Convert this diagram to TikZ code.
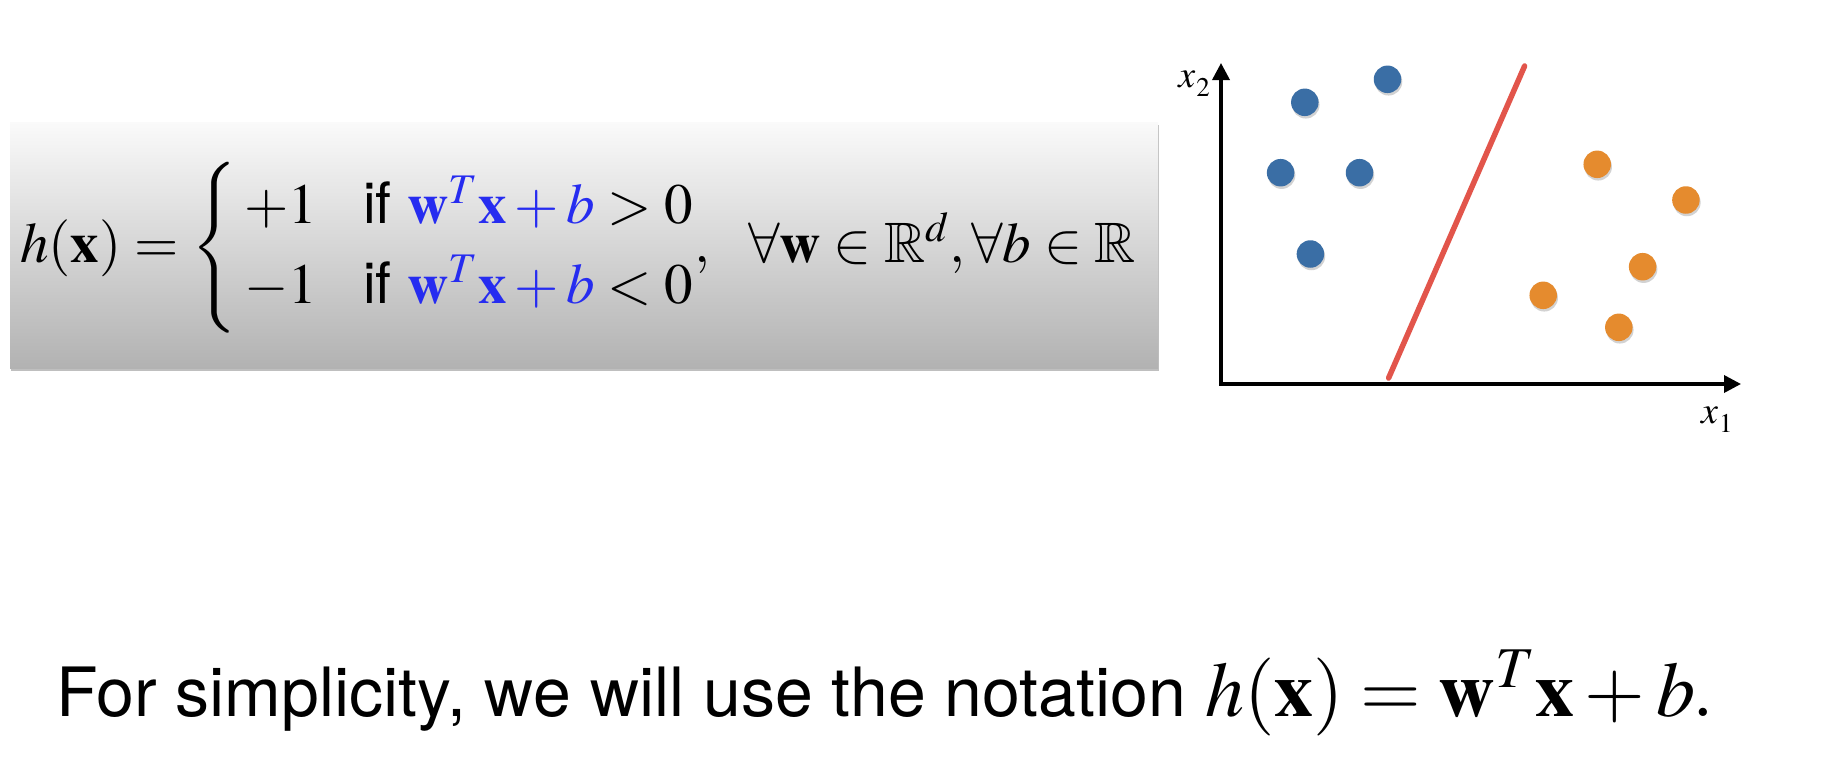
\documentclass[tikz,border=0pt]{standalone}
\usepackage{amsmath,amssymb}
\usepackage{mathptmx}
\usepackage[no-math]{fontspec}
\setmainfont{TeX Gyre Heros}
\usetikzlibrary{arrows.meta,shadows}
\definecolor{fblue}{RGB}{38,44,240}
\definecolor{dotblue}{RGB}{58,110,165}
\definecolor{dotorange}{RGB}{229,139,46}
\definecolor{sepred}{RGB}{226,85,75}
\definecolor{boxtop}{RGB}{250,250,250}
\definecolor{boxbot}{RGB}{178,178,178}
\newcommand{\axlab}[2]{{\fontsize{38}{42}\selectfont$#1$}\kern1pt\lower9pt\hbox{\fontsize{27}{30}\selectfont$#2$}}
\tikzset{
  dotbase/.style={circle,inner sep=0pt,minimum size=27.5pt,
    drop shadow={shadow xshift=1pt,shadow yshift=-2.5pt,opacity=0.35}},
  bdot/.style={dotbase,fill=dotblue},
  odot/.style={dotbase,fill=dotorange},
  axisline/.style={line width=3.5pt,line join=miter,
    {Triangle[length=17pt,width=17pt]}-{Triangle[length=17pt,width=17pt]}},
  axlabel/.style={inner sep=0pt},
  formulabox/.style={draw=none,top color=boxtop,bottom color=boxbot,
    drop shadow={shadow xshift=1pt,shadow yshift=-2.5pt,opacity=0.5}},
}
\begin{document}
\begin{tikzpicture}[x=1pt,y=-1pt]
\useasboundingbox[fill=white] (0,0) rectangle (1822,776);
% formula box
\path[formulabox] (10,122) rectangle (1158,368);
\node[anchor=base west,inner sep=0pt,font=\fontsize{57}{66}\selectfont] (formula) at (20,262)
 {$h(\mathbf{x}) = \left\{\vcenter{\hbox{\rule{0pt}{146pt}}}\right.
 {\def\arraystretch{1.2}\begin{array}{@{}l@{\hspace{46pt}}l@{}} +1 & \text{if } {\color{fblue}\mathbf{w}^T\mathbf{x}+b} > 0\\ -1 & \text{if } {\color{fblue}\mathbf{w}^T\mathbf{x}+b} < 0\end{array}}\kern1pt,\ \ \forall \mathbf{w}\in\mathbb{R}^d, \forall b\in\mathbb{R}$};
% plot
\coordinate (o) at (1221,384);
\coordinate (ytip) at (1221,63);
\coordinate (xtip) at (1741,384);
\draw[axisline] (ytip) -- (o) -- (xtip);
\node[axlabel,anchor=base east] (x2) at (1210,88) {\axlab{x}{2}};
\node[axlabel,anchor=base west] (x1) at (1701,423) {\axlab{x}{1}};
\coordinate (sepA) at (1388.6,378);
\coordinate (sepB) at (1524.6,66);
\draw[sepred,line width=5.5pt,line cap=round] (sepA) -- (sepB);
\node[bdot] (b1) at (1387.5,79.3) {};
\node[bdot] (b2) at (1304.8,102.3) {};
\node[bdot] (b3) at (1280.6,172.7) {};
\node[bdot] (b4) at (1359.5,172.7) {};
\node[bdot] (b5) at (1310.4,254) {};
\node[odot] (o1) at (1597.2,164.3) {};
\node[odot] (o2) at (1685.9,200) {};
\node[odot] (o3) at (1642.6,266.7) {};
\node[odot] (o4) at (1543.2,295.3) {};
\node[odot] (o5) at (1618.8,327.3) {};
% caption
\node[anchor=base west,inner sep=0pt,font=\fontsize{68}{80}\selectfont] (caption) at (56,716)
 {For simplicity, we will use the notation \mbox{\fontsize{78}{94}\selectfont$h(\mathbf{x}) = \mathbf{w}^T\mathbf{x}+b.$}};
\end{tikzpicture}
\end{document}
